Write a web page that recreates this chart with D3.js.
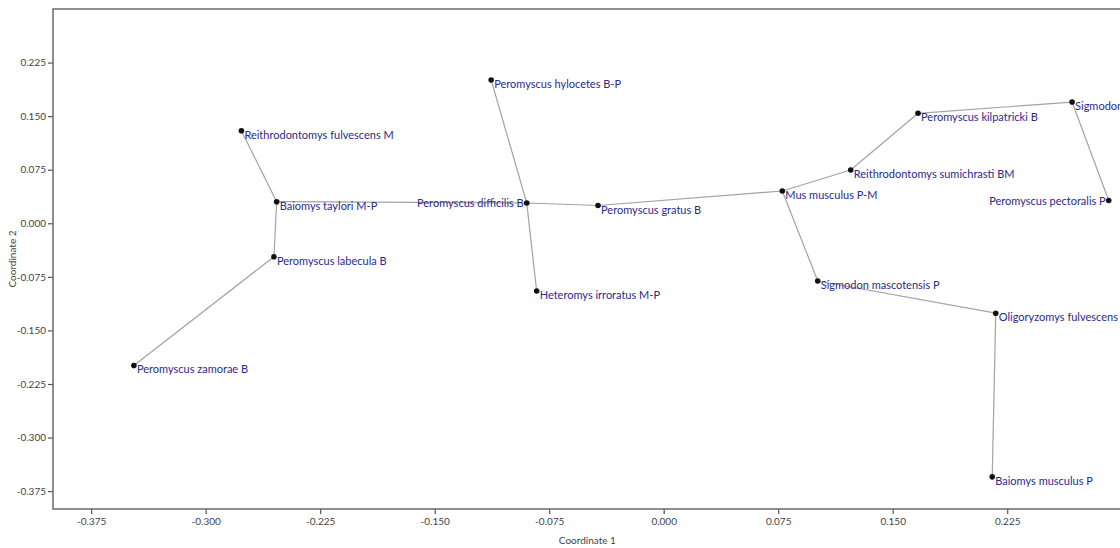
<!DOCTYPE html>
<html>
<head>
<meta charset="utf-8">
<script src="https://cdn.jsdelivr.net/npm/d3@7"></script>
<style>
  html, body { margin: 0; padding: 0; background: #ffffff; }
  svg { display: block; }
</style>
</head>
<body>
<svg id="chart" width="1120" height="548"></svg>
<script>
// Ordination scores (PCoA) for each taxon, with the minimum spanning tree joining them.
const taxa = [
  "Peromyscus zamorae B",
  "Peromyscus labecula B",
  "Baiomys taylori M-P",
  "Reithrodontomys fulvescens M",
  "Peromyscus difficilis B",
  "Peromyscus hylocetes B-P",
  "Heteromys irroratus M-P",
  "Peromyscus gratus B",
  "Mus musculus P-M",
  "Reithrodontomys sumichrasti BM",
  "Peromyscus kilpatricki B",
  "Sigmodon",
  "Peromyscus pectoralis P",
  "Sigmodon mascotensis P",
  "Oligoryzomys fulvescens",
  "Baiomys musculus P"
];
const coord1 = [-0.347, -0.2553, -0.2535, -0.2766, -0.0897, -0.113, -0.0832, -0.043,
                0.0777, 0.1225, 0.1666, 0.2675, 0.2915, 0.1009, 0.2175, 0.2152];
const coord2 = [-0.199, -0.0468, 0.0302, 0.1296, 0.0284, 0.2006, -0.0948, 0.0249,
                0.0452, 0.0746, 0.154, 0.1697, 0.0319, -0.0808, -0.1259, -0.355];

// Spanning tree edges, as pairs of taxon indices
const treeEdges = [
  [0, 1], [1, 2], [2, 3], [2, 4], [4, 5], [4, 6], [4, 7], [7, 8],
  [8, 9], [9, 10], [10, 11], [11, 12], [8, 13], [13, 14], [14, 15]
];

// Taxa whose names sit to the left of their marker
const labelledLeft = ["Peromyscus difficilis B", "Peromyscus pectoralis P"];

const xTicks = [-0.375, -0.3, -0.225, -0.15, -0.075, 0, 0.075, 0.15, 0.225];
const xTickLabels = ["-0.375", "-0.300", "-0.225", "-0.150", "-0.075", "0.000", "0.075", "0.150", "0.225"];
const yTicks = [-0.375, -0.3, -0.225, -0.15, -0.075, 0, 0.075, 0.15, 0.225];
const yTickLabels = ["-0.375", "-0.300", "-0.225", "-0.150", "-0.075", "0.000", "0.075", "0.150", "0.225"];

const svg = d3.select("#chart");
const plot = { left: 53, top: 9, right: 1121.7, bottom: 509 };

const x = d3.scaleLinear().domain([-0.4, 0.3]).range([plot.left, plot.right]);
const y = d3.scaleLinear().domain([-0.4, 0.3]).range([plot.bottom, plot.top]);

const font = "'Segoe UI', Lato, 'Open Sans', sans-serif";

// Axes
const xAxis = d3.axisBottom(x)
  .tickValues(xTicks)
  .tickFormat((d, i) => xTickLabels[i])
  .tickSizeInner(5).tickSizeOuter(0).tickPadding(4);
const yAxis = d3.axisLeft(y)
  .tickValues(yTicks)
  .tickFormat((d, i) => yTickLabels[i])
  .tickSizeInner(5).tickSizeOuter(0).tickPadding(2);

const gx = svg.append("g")
  .attr("transform", `translate(0,${plot.bottom})`)
  .call(xAxis);
const gy = svg.append("g")
  .attr("transform", `translate(${plot.left},0)`)
  .call(yAxis);

[gx, gy].forEach(g => {
  g.select(".domain").remove();
  g.selectAll(".tick line").attr("stroke", "#555").attr("stroke-width", 1.2);
  g.selectAll(".tick text")
    .attr("fill", "#444")
    .style("font-family", font)
    .style("font-size", "10px");
});

// Frame around the plotting area
svg.append("rect")
  .attr("x", plot.left).attr("y", plot.top)
  .attr("width", plot.right - plot.left).attr("height", plot.bottom - plot.top)
  .attr("fill", "none").attr("stroke", "#6a6a6a").attr("stroke-width", 1.5);

// Axis titles
svg.append("text")
  .attr("x", (plot.left + plot.right) / 2).attr("y", 544)
  .attr("text-anchor", "middle")
  .attr("fill", "#444")
  .style("font-family", font).style("font-size", "10px")
  .text("Coordinate 1");
svg.append("text")
  .attr("transform", `translate(16,${(plot.top + plot.bottom) / 2}) rotate(-90)`)
  .attr("text-anchor", "middle")
  .attr("fill", "#444")
  .style("font-family", font).style("font-size", "10px")
  .text("Coordinate 2");

// Clip marks and names to the plotting area
svg.append("clipPath").attr("id", "plot-clip")
  .append("rect")
  .attr("x", plot.left).attr("y", plot.top)
  .attr("width", plot.right - plot.left).attr("height", plot.bottom - plot.top);

const body = svg.append("g").attr("clip-path", "url(#plot-clip)");

const nodes = taxa.map((name, i) => ({ name, c1: coord1[i], c2: coord2[i] }));

// Tree edges
body.append("g")
  .selectAll("line")
  .data(treeEdges)
  .join("line")
  .attr("x1", d => x(nodes[d[0]].c1))
  .attr("y1", d => y(nodes[d[0]].c2))
  .attr("x2", d => x(nodes[d[1]].c1))
  .attr("y2", d => y(nodes[d[1]].c2))
  .attr("stroke", "#a3a3a3")
  .attr("stroke-width", 1.2);

// Taxon names
body.append("g")
  .selectAll("text")
  .data(nodes)
  .join("text")
  .attr("x", d => labelledLeft.includes(d.name) ? x(d.c1) - 3 : x(d.c1) + 3)
  .attr("y", d => labelledLeft.includes(d.name) ? y(d.c2) + 4 : y(d.c2) + 8)
  .attr("text-anchor", d => labelledLeft.includes(d.name) ? "end" : "start")
  .attr("fill", "#2a2a8c")
  .style("font-family", font)
  .style("font-size", "11px")
  .text(d => d.name);

// Points
body.append("g")
  .selectAll("circle")
  .data(nodes)
  .join("circle")
  .attr("cx", d => x(d.c1))
  .attr("cy", d => y(d.c2))
  .attr("r", 2.8)
  .attr("fill", "#111");
</script>
</body>
</html>
